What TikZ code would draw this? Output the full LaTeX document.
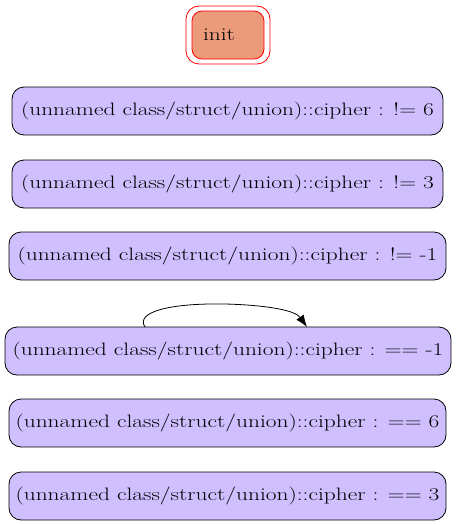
\documentclass[tikz,border=0pt]{standalone}
\usepackage{fontspec}
\setmainfont[FakeStretch=1.3]{Latin Modern Roman}
\usetikzlibrary{arrows.meta}
\definecolor{lav}{HTML}{CFBFFF}
\definecolor{sal}{HTML}{EB9A7A}
\begin{document}
\begin{tikzpicture}[x=1pt,y=-1pt,
  cond/.style={draw=black, fill=lav, rounded corners=12pt, minimum height=48pt, inner sep=0pt, font=\fontsize{18}{20}\selectfont, line width=0.8pt},
  initbox/.style={draw=red, fill=sal, rounded corners=10pt, minimum width=72pt, minimum height=48pt, inner sep=0pt, font=\fontsize{18}{20}\selectfont, line width=0.8pt},
  initouter/.style={draw=red, rounded corners=13pt, minimum width=84pt, minimum height=58pt, inner sep=0pt, line width=0.8pt}]
\useasboundingbox (0,0) rectangle (456,525);
\node[initouter] (initout) at (228,35) {};
\node[initbox] (init) at (228,35) {\hspace*{-18pt}init};
\node[cond, minimum width=431pt] (n1) at (227.5,111) {(unnamed class/struct/union)::cipher : != 6};
\node[cond, minimum width=431pt] (n2) at (227.5,184) {(unnamed class/struct/union)::cipher : != 3};
\node[cond, minimum width=437pt] (n3) at (227.5,256) {(unnamed class/struct/union)::cipher : != -1};
\node[cond, minimum width=446pt] (n4) at (228,351) {(unnamed class/struct/union)::cipher : == -1};
\node[cond, minimum width=437pt] (n5) at (227.5,423) {(unnamed class/struct/union)::cipher : == 6};
\node[cond, minimum width=437pt] (n6) at (227.5,496) {(unnamed class/struct/union)::cipher : == 3};
\coordinate (ls) at (145,327);
\coordinate (le) at (307,327);
\draw[line width=0.8pt, -{Latex[length=12pt,width=9pt]}] (ls) .. controls (135,312) and (170,303) .. (225,304) .. controls (265,305) and (295,310) .. (le);
\end{tikzpicture}
\end{document}
